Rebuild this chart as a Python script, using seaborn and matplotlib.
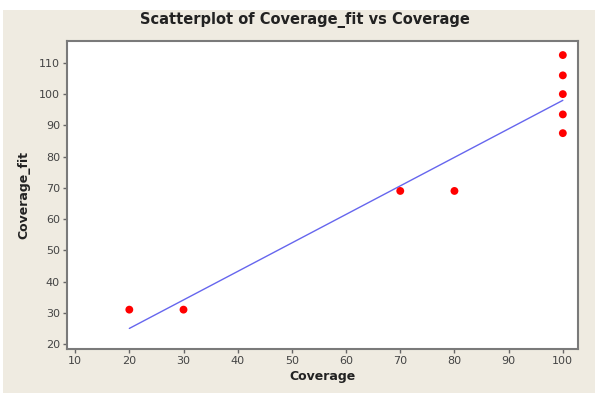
import numpy as np
import pandas as pd
import matplotlib
matplotlib.use("Agg")
import matplotlib.pyplot as plt
import seaborn as sns
from matplotlib.patches import Rectangle

coverage = [20, 30, 70, 80, 100, 100, 100, 100, 100]
coverage_fit = [31, 31, 69, 69, 112.5, 106, 100, 93.5, 87.5]
x_ticks = [10, 20, 30, 40, 50, 60, 70, 80, 90, 100]
y_ticks = [20, 30, 40, 50, 60, 70, 80, 90, 100, 110]

df = pd.DataFrame({"Coverage": coverage, "Coverage_fit": coverage_fit})

sns.set_style("white")
plt.rcParams['font.family'] = ['DejaVu Sans']

fig = plt.figure(figsize=(5.99, 4.09), dpi=100)
fig.patch.set_facecolor("white")
bg = Rectangle((3/599, 1-393/409), 592/599, (393-10)/409, transform=fig.transFigure,
               facecolor="#EFEBE1", edgecolor="none", zorder=-10)
fig.patches.append(bg)

ax = fig.add_axes([67/599, 1-349/409, (578-67)/599, (349-41)/409])
ax.set_facecolor("white")

sns.regplot(data=df, x="Coverage", y="Coverage_fit", ax=ax, ci=None, truncate=True,
            scatter_kws=dict(color="#FF0000", s=32, edgecolor="none", alpha=1, zorder=3),
            line_kws=dict(color="#6666EE", lw=1.0, zorder=2))

ax.set_xlim(8.5, 102.8)
ax.set_ylim(18.4, 117)
ax.set_xticks(x_ticks)
ax.set_yticks(y_ticks)

for s in ax.spines.values():
    s.set_color("#7A7A7A")
    s.set_linewidth(1.5)
ax.tick_params(axis="both", direction="out", length=3, width=1, color="#666666",
               labelsize=8, labelcolor="#444444", pad=2, left=True, bottom=True)

ax.set_xlabel("Coverage", fontsize=9, fontweight="bold", color="#222222", labelpad=3)
ax.set_ylabel("Coverage_fit", fontsize=9, fontweight="bold", color="#222222", labelpad=6)
fig.text(305/599, 1-20/409, "Scatterplot of Coverage_fit vs Coverage",
         ha="center", va="center", fontsize=10.5, fontweight="bold", color="#222222")

fig.savefig("out.png", dpi=100, facecolor=fig.get_facecolor())
